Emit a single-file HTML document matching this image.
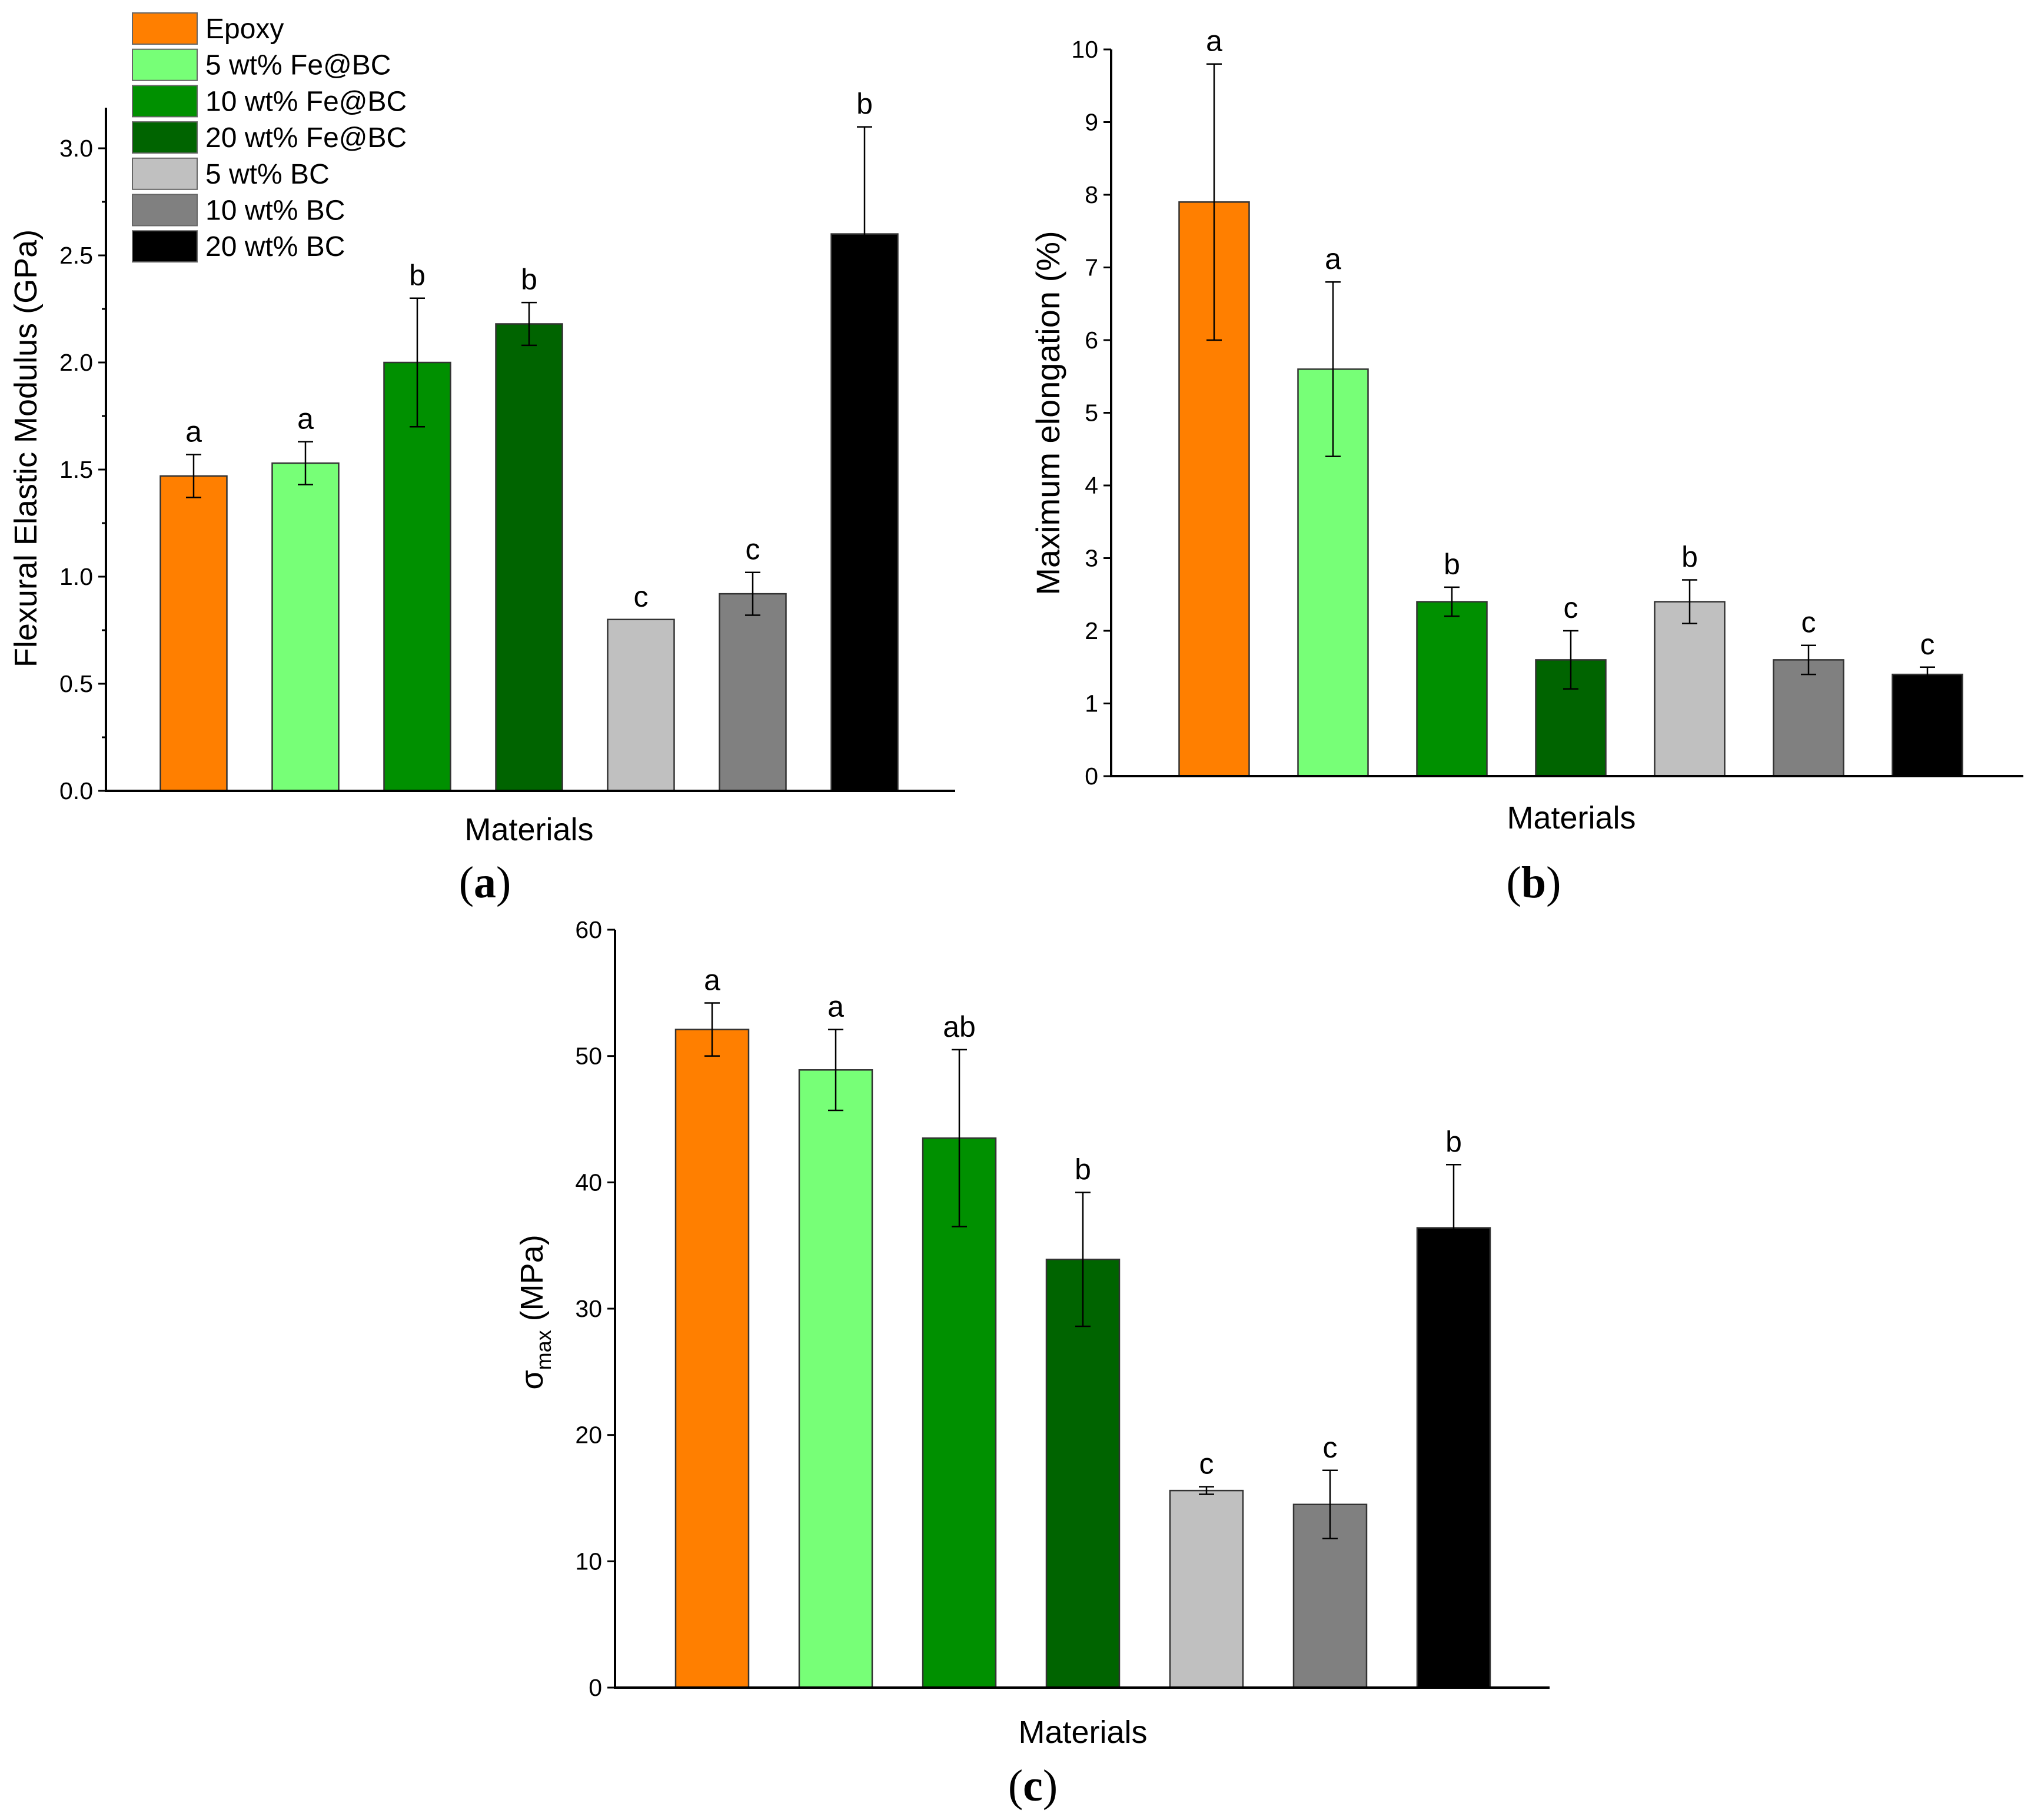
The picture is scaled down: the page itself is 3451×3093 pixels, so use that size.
<!DOCTYPE html>
<html><head><meta charset="utf-8"><style>
html,body{margin:0;padding:0;background:#fff;}
svg{display:block;}
text{font-family:"Liberation Sans",Arial,sans-serif;fill:#000;}
.serif{font-family:"Liberation Serif",serif;}
</style></head><body>
<svg id="fig" xmlns="http://www.w3.org/2000/svg" width="3451" height="3093" viewBox="0 0 3451 3093"></svg>
<script>
const categories = ["Epoxy","5 wt% Fe@BC","10 wt% Fe@BC","20 wt% Fe@BC","5 wt% BC","10 wt% BC","20 wt% BC"];
const colors = ["#ff7f00","#77ff77","#009000","#006400","#c0c0c0","#808080","#000000"];
const modulusValues = [1.47,1.53,2.0,2.18,0.8,0.92,2.6];
const modulusErrors = [0.1,0.1,0.3,0.1,0,0.1,0.5];
const modulusLetters = ["a","a","b","b","c","c","b"];
const modulusTicks = ["0.0","0.5","1.0","1.5","2.0","2.5","3.0"];
const elongValues = [7.9,5.6,2.4,1.6,2.4,1.6,1.4];
const elongErrors = [1.9,1.2,0.2,0.4,0.3,0.2,0.1];
const elongLetters = ["a","a","b","c","b","c","c"];
const elongTicks = ["0","1","2","3","4","5","6","7","8","9","10"];
const stressValues = [52.1,48.9,43.5,33.9,15.6,14.5,36.4];
const stressErrors = [2.1,3.2,7.0,5.3,0.3,2.7,5.0];
const stressLetters = ["a","a","ab","b","c","c","b"];
const stressTicks = ["0","10","20","30","40","50","60"];

const NS="http://www.w3.org/2000/svg";
const svg=document.getElementById('fig');
function mk(tag,attrs,parent){const e=document.createElementNS(NS,tag);for(const k in attrs)e.setAttribute(k,attrs[k]);(parent||svg).appendChild(e);return e;}

function panel(cfg){
  const g=mk('g',{});
  
  
  const y=v=>cfg.y0-(v-cfg.min)/(cfg.max-cfg.min)*(cfg.y0-cfg.yTop);
  const xs=i=>cfg.c0+i*cfg.step;
  cfg.values.forEach((v,i)=>{
    const r=mk('rect',{x:xs(i)-cfg.bw/2,y:y(v),width:cfg.bw,height:cfg.y0-y(v),fill:colors[i],stroke:'#333','stroke-width':2.5},g);
    
    
    const e=cfg.errors[i];
    if(e>0){
      const eb=mk('path',{d:`M${xs(i)},${y(v+e)}V${y(v-e)}M${xs(i)-13},${y(v+e)}h26M${xs(i)-13},${y(v-e)}h26`,stroke:'#000','stroke-width':2.5,fill:'none'},g);
      
      
    }
    const t=mk('text',{x:xs(i),y:y(v+e)-22,'font-size':50,'text-anchor':'middle'},g);
    t.textContent=cfg.letters[i];
    
    
  });
  const ax=mk('path',{d:`M${cfg.ax},${cfg.axTop}V${cfg.y0}H${cfg.axEnd}`,stroke:'#000','stroke-width':4,fill:'none'},g);
  
  
  cfg.ticks.forEach((lab,k)=>{
    const v=cfg.min+k*cfg.tickStep;
    mk('line',{x1:cfg.ax-13,x2:cfg.ax,y1:y(v),y2:y(v),stroke:'#000','stroke-width':3},g);
    if(cfg.minor && k<cfg.ticks.length-1){const vm=v+cfg.tickStep/2;mk('line',{x1:cfg.ax-7,x2:cfg.ax,y1:y(vm),y2:y(vm),stroke:'#000','stroke-width':3},g);}
    const t=mk('text',{x:cfg.ax-22,y:y(v)+14,'font-size':41,'text-anchor':'end'},g);
    t.textContent=lab;
    
    
  });
  const yt=mk('text',{x:0,y:0,'font-size':cfg.titleSize,'text-anchor':'middle',transform:`translate(${cfg.titleX},${cfg.titleY}) rotate(-90)`},g);
  
  
  if(cfg.sigma){
    yt.innerHTML='σ<tspan font-size="36" dy="14">max</tspan><tspan dy="-14"> (MPa)</tspan>';
  } else yt.textContent=cfg.title;
  const xt=mk('text',{x:cfg.matX,y:cfg.matY,'font-size':54,'text-anchor':'middle'},g);
  xt.textContent='Materials';
  
  
  const pl=mk('text',{x:cfg.plX,y:cfg.plY,'font-size':76,'text-anchor':'middle',class:'serif'},g);
  pl.innerHTML='(<tspan font-weight="bold">'+cfg.letter+'</tspan>)';
  
  
}

panel({name:'chart-a-modulus',values:modulusValues,errors:modulusErrors,letters:modulusLetters,ticks:modulusTicks,
  min:0,max:3,tickStep:0.5,minor:true,y0:1344,yTop:252,ax:180,axTop:183,axEnd:1623,c0:329,step:190,bw:113,
  title:'Flexural Elastic Modulus (GPa)',titleSize:54,titleX:62,titleY:762,matX:899,matY:1428,plX:824,plY:1525,letter:'a'});
panel({name:'chart-b-elongation',values:elongValues,errors:elongErrors,letters:elongLetters,ticks:elongTicks,
  min:0,max:10,tickStep:1,minor:false,y0:1319,yTop:84,ax:1888,axTop:84,axEnd:3438,c0:2063,step:202,bw:119,
  title:'Maximum elongation (%)',titleSize:56,titleX:1800,titleY:702,matX:2670,matY:1408,plX:2606,plY:1525,letter:'b'});
panel({name:'chart-c-stress',values:stressValues,errors:stressErrors,letters:stressLetters,ticks:stressTicks,
  min:0,max:60,tickStep:10,minor:false,y0:2868,yTop:1580,ax:1045,axTop:1580,axEnd:2633,c0:1210,step:210,bw:124,
  sigma:true,titleSize:54,titleX:922,titleY:2230,matX:1840,matY:2962,plX:1755,plY:3060,letter:'c'});

const lg=mk('g',{});


categories.forEach((c,i)=>{
  const yy=22+i*61.7;
  const sw=mk('rect',{x:225,y:yy,width:110,height:53,fill:colors[i],stroke:'#666','stroke-width':2},lg);
  
  
  const t=mk('text',{x:349,y:yy+43,'font-size':48},lg);
  t.textContent=c;
  
  
});
</script>
</body></html>
